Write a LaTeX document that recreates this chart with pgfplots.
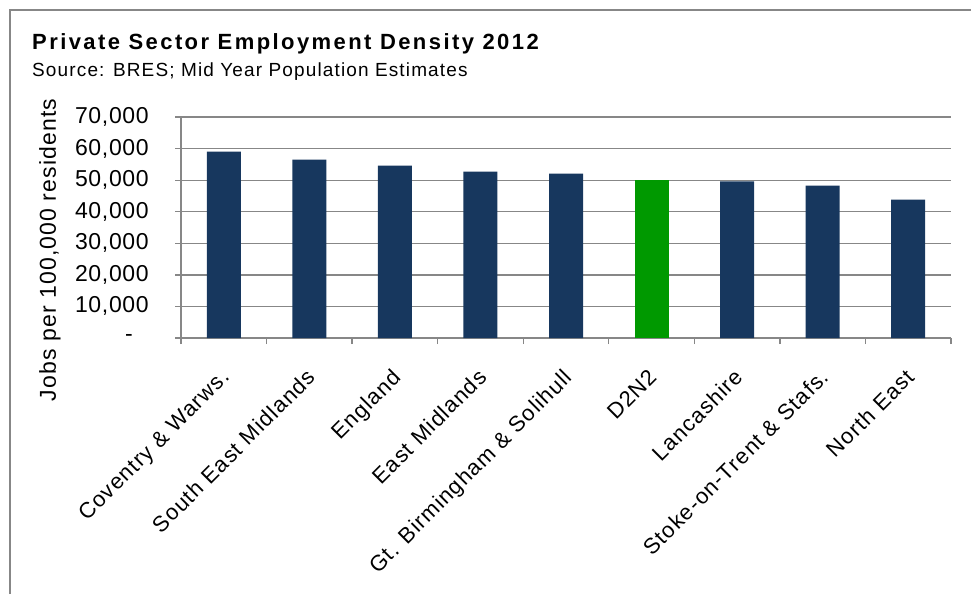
\documentclass[border=0pt]{standalone}
\usepackage{pgfplots}
\pgfplotsset{compat=1.18}
\usepackage{fontspec}
\setmainfont{Liberation Sans}[LetterSpace=5]
\definecolor{barblue}{HTML}{17375E}
\definecolor{bargreen}{HTML}{009900}
\definecolor{gridgray}{HTML}{878787}
\begin{document}
\begin{tikzpicture}
\useasboundingbox (0pt,0pt) rectangle (971pt,-594pt);
\draw[gridgray, line width=1.3pt] (10pt,-594pt) -- (10pt,-10pt) -- (971pt,-10pt);
\node[anchor=base west, inner sep=0pt, font=\fontsize{22}{26}\selectfont\bfseries\addfontfeature{LetterSpace=11}] at (32pt,-50pt) {Private Sector Employment Density 2012};
\node[anchor=base west, inner sep=0pt, font=\fontsize{19}{23}\selectfont\addfontfeature{LetterSpace=6}] at (32pt,-76pt) {Source: BRES; Mid Year Population Estimates};
\node[rotate=90, anchor=center, inner sep=0pt, font=\fontsize{23}{27}\selectfont] at (50pt,-250pt) {Jobs per 100,000 residents};
\begin{axis}[
  at={(181pt,-338pt)}, anchor=south west,
  scale only axis, width=770pt, height=221pt,
  xmin=-0.5, xmax=8.5, ymin=0, ymax=70000,
  scaled y ticks=false,
  axis lines*=left,
  axis line style={-, gridgray, line width=1.3pt},
  tick style={gridgray, line width=1.3pt},
  tick align=outside,
  major tick length=6pt,
  ymajorgrids,
  grid style={gridgray, line width=1.3pt},
  ytick={0,10000,20000,30000,40000,50000,60000,70000},
  yticklabels={{-\kern16pt},{10,000},{20,000},{30,000},{40,000},{50,000},{60,000},{70,000}},
  yticklabel style={anchor=east, inner sep=0pt, xshift=-26pt, font=\fontsize{23}{27}\selectfont\addfontfeature{LetterSpace=3}},
  xtick={-0.5,0.5,...,8.5},
  xticklabel={\mbox{}},
  extra x ticks={0,1,2,3,4,5,6,7,8},
  extra x tick labels={Coventry \& Warws.,South East Midlands,England,East Midlands,Gt. Birmingham \& Solihull,D2N2,Lancashire,Stoke-on-Trent \& Stafs.,North East},
  extra x tick style={major tick length=0pt, xmajorgrids=false, xticklabel style={rotate=45, anchor=north east, inner sep=0pt, xshift=-23.5pt, yshift=-18pt, font=\fontsize{22}{26}\selectfont}},
]
\addplot[ybar, bar width=34pt, bar shift=0pt, fill=barblue, draw=none] coordinates {(0,59000) (1,56500) (2,54600) (3,52700) (4,52050) (6,49600) (7,48250) (8,43800)};
\addplot[ybar, bar width=34pt, bar shift=0pt, fill=bargreen, draw=none] coordinates {(5,50150)};
\end{axis}
\end{tikzpicture}
\end{document}
